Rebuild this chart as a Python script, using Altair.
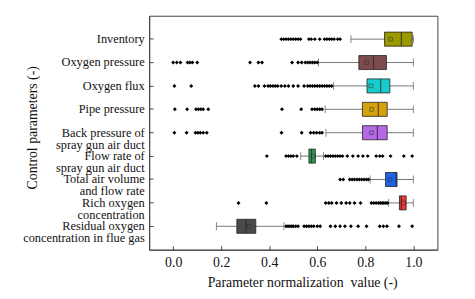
import altair as alt
import pandas as pd

categories = [
    "Inventory",
    "Oxygen pressure",
    "Oxygen flux",
    "Pipe pressure",
    "Back pressure of\nspray gun air duct",
    "Flow rate of\nspray gun air duct",
    "Total air volume\nand flow rate",
    "Rich oxygen\nconcentration",
    "Residual oxygen\nconcentration in flue gas",
]
colors = ["#9a9a00", "#7d4b4b", "#19cccc", "#d6a20c", "#b469e6",
          "#2e9e5a", "#1e64e6", "#ee3838", "#4a4a4a"]

whisker_lo = [0.740, 0.605, 0.668, 0.633, 0.636, 0.531, 0.820, 0.897, 0.180]
q1 =         [0.880, 0.773, 0.807, 0.788, 0.788, 0.565, 0.884, 0.942, 0.265]
median =     [0.950, 0.834, 0.864, 0.854, 0.850, 0.576, 0.928, 0.950, 0.303]
q3 =         [0.995, 0.888, 0.902, 0.891, 0.891, 0.592, 0.932, 0.970, 0.344]
whisker_hi = [1.000, 1.000, 1.000, 1.000, 1.000, 0.626, 1.000, 1.000, 0.461]
mean =       [0.905, 0.805, 0.823, 0.826, 0.826, 0.582, 0.903, 0.959, 0.317]

outliers_inventory = [0.45, 0.46, 0.47, 0.48, 0.49, 0.50, 0.51, 0.52, 0.53,
                      0.565, 0.575, 0.59, 0.61, 0.63, 0.64, 0.65, 0.66, 0.67,
                      0.685, 0.695]
outliers_oxygen_pressure = [0.0, 0.015, 0.03, 0.06, 0.07, 0.08, 0.10, 0.32,
                            0.355, 0.37, 0.495, 0.52, 0.535, 0.55, 0.56, 0.57,
                            0.58, 0.59, 0.60]
outliers_oxygen_flux = [0.005, 0.075, 0.34, 0.355, 0.38, 0.395, 0.405, 0.415,
                        0.425, 0.435, 0.45, 0.465, 0.48, 0.50, 0.52, 0.545,
                        0.56, 0.57, 0.58, 0.59, 0.60, 0.61, 0.62, 0.63, 0.64,
                        0.65, 0.66]
outliers_pipe_pressure = [0.007, 0.058, 0.095, 0.105, 0.115, 0.125, 0.146,
                          0.453, 0.533, 0.578, 0.59, 0.60, 0.61, 0.62]
outliers_back_pressure = [0.005, 0.056, 0.093, 0.103, 0.113, 0.125, 0.14,
                          0.451, 0.535, 0.572, 0.585, 0.597, 0.61, 0.62]
outliers_flow_rate = [0.39, 0.47, 0.48, 0.49, 0.50, 0.515, 0.635, 0.645,
                      0.655, 0.665, 0.675, 0.685, 0.695, 0.705, 0.725, 0.748,
                      0.77, 0.79, 0.81, 0.845, 0.86, 0.872, 0.905, 0.96, 0.995]
outliers_total_air = [0.695, 0.708, 0.735, 0.745, 0.755, 0.765, 0.775, 0.785,
                      0.795, 0.805, 0.813]
outliers_rich_oxygen = [0.272, 0.388, 0.635, 0.648, 0.66, 0.68, 0.70, 0.72,
                        0.735, 0.755, 0.78, 0.825, 0.835, 0.845, 0.855, 0.862,
                        0.87, 0.877, 0.885, 0.892]
outliers_residual = [0.47, 0.478, 0.486, 0.494, 0.50, 0.51, 0.52, 0.545, 0.555,
                     0.565, 0.575, 0.585, 0.60, 0.612, 0.655, 0.675, 0.695,
                     0.715, 0.74, 0.77, 0.805, 0.86, 0.875, 0.89, 0.94, 0.995]

outlier_lists = [outliers_inventory, outliers_oxygen_pressure,
                 outliers_oxygen_flux, outliers_pipe_pressure,
                 outliers_back_pressure, outliers_flow_rate,
                 outliers_total_air, outliers_rich_oxygen, outliers_residual]

stats = pd.DataFrame({
    "cat": categories, "wlo": whisker_lo, "q1": q1, "median": median,
    "q3": q3, "whi": whisker_hi, "mean": mean,
})
caps = pd.DataFrame({
    "cat": categories + categories,
    "v": whisker_lo + whisker_hi,
})
outl = pd.DataFrame([
    {"cat": c, "v": v} for c, lst in zip(categories, outlier_lists) for v in lst
])

FONT = "Liberation Serif"

x_scale = alt.Scale(domain=[-0.1, 1.1], nice=False, zero=False)
y_enc = alt.Y(
    "cat:N", sort=categories,
    scale=alt.Scale(domain=categories, paddingInner=0.4, paddingOuter=0.7),
    axis=alt.Axis(
        title="Control parameters (-)",
        labelExpr="split(datum.label, '\\n')",
        labelLineHeight=12,
        labelBaseline="alphabetic",
        labelOffset=4,
        labelPadding=9,
        labelFontSize=12.5,
        tickSize={"expr": "-4"},
    ),
)
x_axis = alt.Axis(
    title="Parameter normalization\u00a0\u00a0value (-)",
    values=[round(i * 0.1, 1) for i in range(11)],
    labelExpr="round(datum.value*10) % 2 == 0 ? format(datum.value, '.1f') : ''",
    tickSize={"expr": "round(datum.value*10) % 2 == 0 ? -4 : -2"},
    labelPadding=10,
    labelFontSize=14,
)

whisk = alt.Chart(stats).mark_rule(color="#777", strokeWidth=1).encode(
    x=alt.X("wlo:Q", scale=x_scale, axis=x_axis),
    x2="whi:Q",
    y=y_enc,
)
cap = alt.Chart(caps).mark_tick(color="#555", size=8, thickness=1).encode(
    x=alt.X("v:Q", scale=x_scale),
    y=alt.Y("cat:N", sort=categories),
)
box = alt.Chart(stats).mark_bar(stroke="#222", strokeWidth=0.8).encode(
    x=alt.X("q1:Q", scale=x_scale),
    x2="q3:Q",
    y=alt.Y("cat:N", sort=categories),
    color=alt.Color("cat:N", scale=alt.Scale(domain=categories, range=colors),
                    legend=None),
)
med = alt.Chart(stats).mark_tick(color="#222", size=14, thickness=1.2).encode(
    x=alt.X("median:Q", scale=x_scale),
    y=alt.Y("cat:N", sort=categories),
)
mn = alt.Chart(stats).mark_point(shape="square", size=14, filled=False,
                                 color="#333", strokeWidth=0.8).encode(
    x=alt.X("mean:Q", scale=x_scale),
    y=alt.Y("cat:N", sort=categories),
)
pts = alt.Chart(outl).mark_point(shape="diamond", size=16, filled=True,
                                 color="#000", opacity=1).encode(
    x=alt.X("v:Q", scale=x_scale),
    y=alt.Y("cat:N", sort=categories),
)

chart = alt.layer(whisk, cap, box, med, mn, pts).properties(
    width=292, height=237,
    autosize=alt.AutoSizeParams(type="none"),
    padding={"left": 143, "top": 6, "right": 30, "bottom": 40},
    background="white",
).configure_view(
    stroke="#444", strokeWidth=1,
).configure_axis(
    grid=False, domainColor="#444", tickColor="#444", labelColor="#111",
    titleColor="#111", labelFont=FONT, titleFont=FONT, titleFontSize=14,
    titleFontWeight="normal",
).configure_axisLeft(
    titleX=-118, titleY=113, titleAngle=270, titleBaseline="middle",
    titleAlign="center",
).configure_axisBottom(
    titleX=155, titleY=33, titleBaseline="middle", titleAlign="center",
)

chart.save("out.html", embed_options={"renderer": "svg", "actions": False})
